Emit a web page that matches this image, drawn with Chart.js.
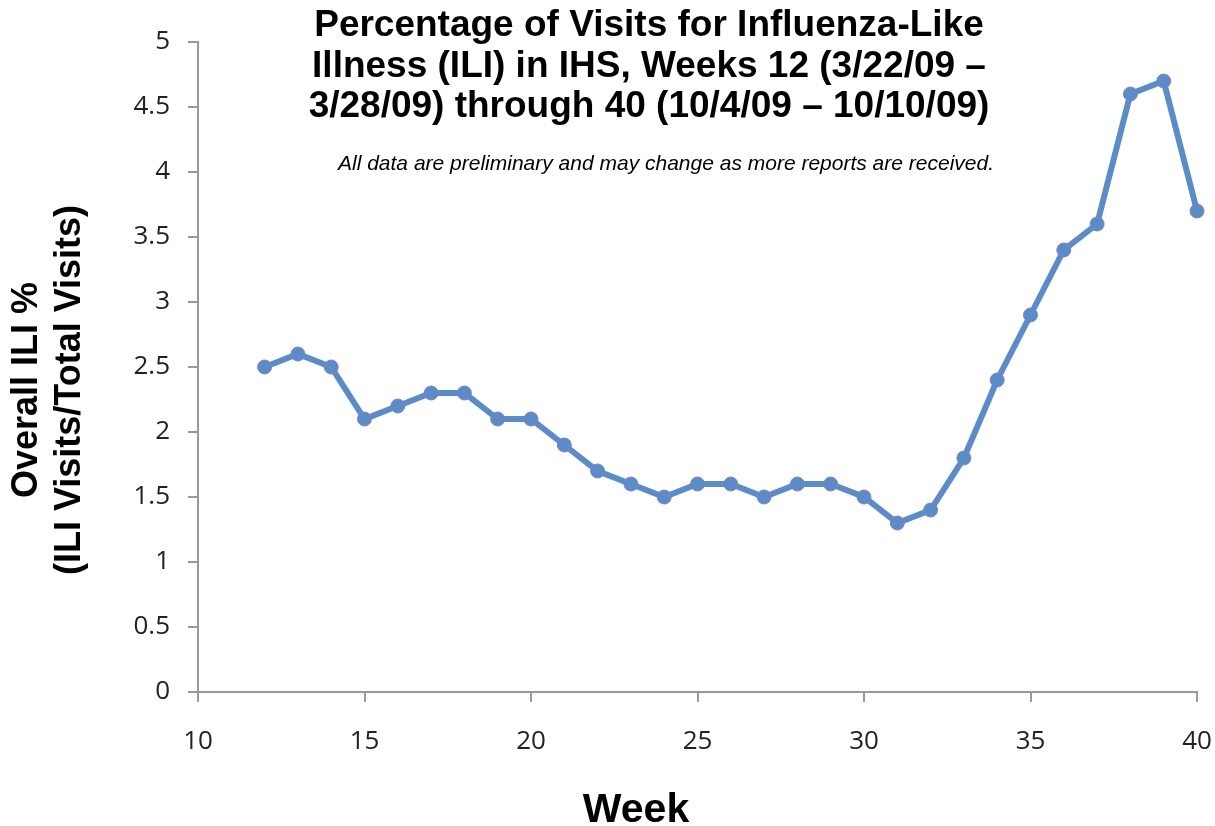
<!DOCTYPE html>
<html>
<head>
<meta charset="utf-8">
<script src="https://cdn.jsdelivr.net/npm/chart.js@4"></script>
<style>
  html, body { margin: 0; padding: 0; background: #fff; }
  #wrap { width: 1215px; height: 826px; }
</style>
</head>
<body>
<div id="wrap"><canvas id="ili_chart"></canvas></div>
<script>
// weeks and overall ILI %
const weeks = [12, 13, 14, 15, 16, 17, 18, 19, 20, 21, 22, 23, 24, 25, 26,
               27, 28, 29, 30, 31, 32, 33, 34, 35, 36, 37, 38, 39, 40];
const iliPercent = [2.5, 2.6, 2.5, 2.1, 2.2, 2.3, 2.3, 2.1, 2.1, 1.9, 1.7, 1.6, 1.5, 1.6, 1.6,
                    1.5, 1.6, 1.6, 1.5, 1.3, 1.4, 1.8, 2.4, 2.9, 3.4, 3.6, 4.6, 4.7, 3.7];
const titleLines = [
  "Percentage of Visits for Influenza-Like",
  "Illness (ILI) in IHS, Weeks 12 (3/22/09 \u2013",
  "3/28/09) through 40 (10/4/09 \u2013 10/10/09)"
];
const subtitleText = "All data are preliminary and may change as more reports are received.";
const yTitleLines = ["Overall ILI %", "(ILI Visits/Total Visits)"];
const xTitleText = "Week";

const points = weeks.map(function(w, i) { return { x: w, y: iliPercent[i] }; });

// titles are drawn by hand so they sit where the original has them
const textPlugin = {
  id: "textPlugin",
  afterDraw: function(chart) {
    const c = chart.ctx;
    c.save();
    c.fillStyle = "#000";
    c.textAlign = "center";
    c.textBaseline = "alphabetic";
    c.font = "bold 37px 'Liberation Sans', Arial, sans-serif";
    titleLines.forEach(function(t, i) { c.fillText(t, 649, 36 + i * 40.5); });
    c.font = "italic 21px 'Liberation Sans', Arial, sans-serif";
    c.fillText(subtitleText, 666, 170);
    c.font = "bold 41px 'Liberation Sans', Arial, sans-serif";
    c.fillText(xTitleText, 636, 822);
    c.font = "bold 36px 'Liberation Sans', Arial, sans-serif";
    c.translate(0, 390);
    c.rotate(-Math.PI / 2);
    c.textBaseline = "middle";
    c.fillText(yTitleLines[0], 0, 27);
    c.fillText(yTitleLines[1], 0, 70);
    c.restore();
  }
};

const ctx = document.getElementById("ili_chart").getContext("2d");
const ili_chart = new Chart(ctx, {
  type: "line",
  data: {
    datasets: [{
      data: points,
      borderColor: "#5b8cc8",
      backgroundColor: "#5b8cc8",
      borderWidth: 6,
      pointRadius: 7,
      pointBackgroundColor: "#5b8cc8",
      pointBorderColor: "#7f84bd",
      pointBorderWidth: 1,
      tension: 0,
      fill: false,
      clip: false
    }]
  },
  options: {
    responsive: true,
    maintainAspectRatio: false,
    animation: false,
    layout: { padding: { top: 42, right: 18, left: 0, bottom: 0 } },
    plugins: {
      legend: { display: false },
      tooltip: { enabled: false }
    },
    scales: {
      x: {
        type: "linear",
        min: 10,
        max: 40,
        ticks: {
          stepSize: 5,
          color: "#222",
          padding: 24,
          font: { family: "'Open Sans'", size: 26 }
        },
        grid: { drawOnChartArea: false, tickLength: 10, tickColor: "#999", lineWidth: 2 },
        border: { color: "#999", width: 2 },
        afterFit: function(s) {
          s.height = 134;
          s.paddingLeft = 0;
          s.paddingRight = 0;
        }
      },
      y: {
        min: 0,
        max: 5,
        ticks: {
          stepSize: 0.5,
          color: "#222",
          padding: 18,
          font: { family: "'Open Sans'", size: 26 },
          callback: function(v) { return String(v); }
        },
        grid: { drawOnChartArea: false, tickLength: 10, tickColor: "#999", lineWidth: 2 },
        border: { color: "#999", width: 2 },
        afterFit: function(s) { s.width = 198; }
      }
    }
  },
  plugins: [textPlugin]
});
</script>
</body>
</html>
